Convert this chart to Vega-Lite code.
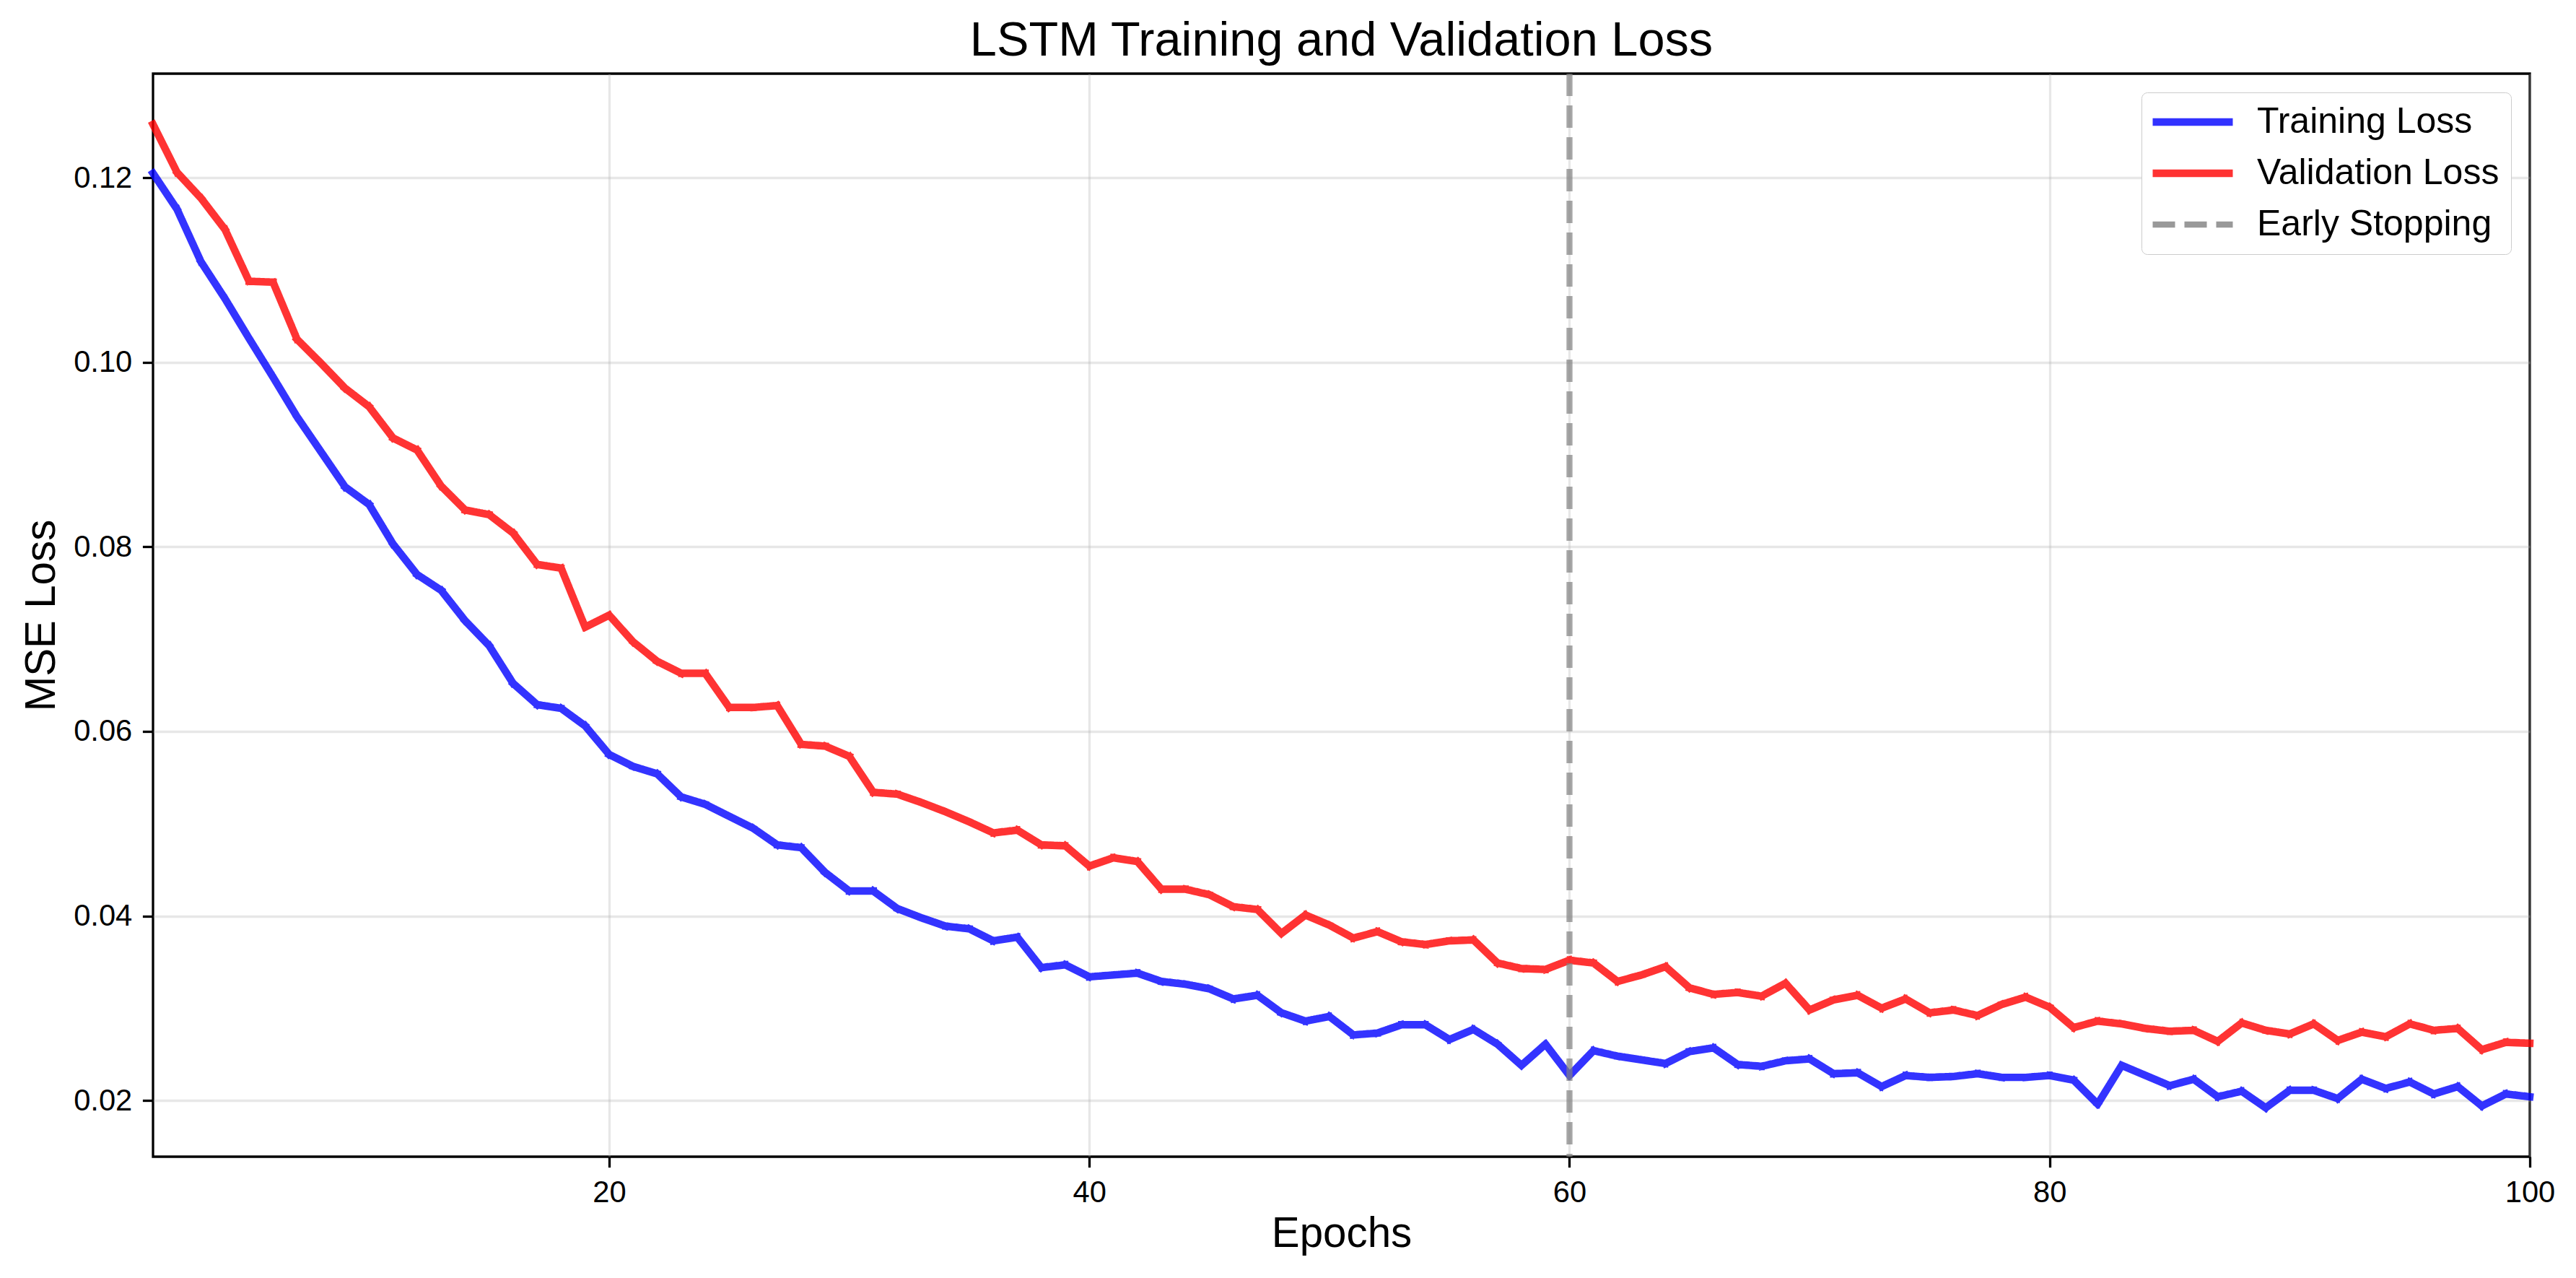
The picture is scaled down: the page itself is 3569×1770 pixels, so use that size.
{
  "$schema": "https://vega.github.io/schema/vega-lite/v6.json",
  "width": 3293,
  "height": 1500,
  "autosize": {"type": "none"},
  "padding": {"left": 212, "top": 102, "right": 64, "bottom": 168},
  "background": "white",
  "title": {"text": "LSTM Training and Validation Loss", "fontSize": 66.7, "font": "Liberation Sans", "fontWeight": "normal", "color": "black", "anchor": "middle", "frame": "group", "offset": 7},
  "config": {
    "view": {"stroke": "black", "strokeWidth": 3.3},
    "font": "Liberation Sans",
    "axis": {"labelFont": "Liberation Sans", "labelFontSize": 41.7, "labelColor": "black", "titleFont": "Liberation Sans", "titleFontSize": 58.3, "titleFontWeight": "normal", "titleColor": "black", "tickColor": "black", "tickWidth": 3.3, "tickSize": 14.6, "labelPadding": 14.6, "domain": false, "gridColor": "#b0b0b0", "gridOpacity": 0.3, "gridWidth": 3.3, "labelFlush": false, "labelOverlap": false},
    "axisX": {"titlePadding": 8},
    "axisY": {"titlePadding": 14},
    "legend": {"orient": "top-right", "offset": 26, "labelFontSize": 50, "labelFont": "Liberation Sans", "labelColor": "black", "symbolType": "M-4,0H4", "symbolSize": 770, "symbolOffset": 30, "labelOffset": 64, "padding": 16, "rowPadding": 21, "strokeColor": "#cccccc", "fillColor": "white", "cornerRadius": 8, "symbolOpacity": 0.8, "labelLimit": 0}
  },
  "datasets": {
    "loss": [
      {"epoch":1,"series":"Training Loss","loss":0.1205},{"epoch":2,"series":"Training Loss","loss":0.1166},{"epoch":3,"series":"Training Loss","loss":0.1109},{"epoch":4,"series":"Training Loss","loss":0.1069},{"epoch":5,"series":"Training Loss","loss":0.1026},{"epoch":6,"series":"Training Loss","loss":0.0984},{"epoch":7,"series":"Training Loss","loss":0.0941},{"epoch":8,"series":"Training Loss","loss":0.0903},{"epoch":9,"series":"Training Loss","loss":0.0865},{"epoch":10,"series":"Training Loss","loss":0.0846},
      {"epoch":11,"series":"Training Loss","loss":0.0803},{"epoch":12,"series":"Training Loss","loss":0.0770},{"epoch":13,"series":"Training Loss","loss":0.0753},{"epoch":14,"series":"Training Loss","loss":0.0720},{"epoch":15,"series":"Training Loss","loss":0.0693},{"epoch":16,"series":"Training Loss","loss":0.0652},{"epoch":17,"series":"Training Loss","loss":0.0629},{"epoch":18,"series":"Training Loss","loss":0.0625},{"epoch":19,"series":"Training Loss","loss":0.0606},{"epoch":20,"series":"Training Loss","loss":0.0575},
      {"epoch":21,"series":"Training Loss","loss":0.0562},{"epoch":22,"series":"Training Loss","loss":0.0554},{"epoch":23,"series":"Training Loss","loss":0.0529},{"epoch":24,"series":"Training Loss","loss":0.0521},{"epoch":25,"series":"Training Loss","loss":0.0508},{"epoch":26,"series":"Training Loss","loss":0.0495},{"epoch":27,"series":"Training Loss","loss":0.0477},{"epoch":28,"series":"Training Loss","loss":0.0474},{"epoch":29,"series":"Training Loss","loss":0.0447},{"epoch":30,"series":"Training Loss","loss":0.0427},
      {"epoch":31,"series":"Training Loss","loss":0.0427},{"epoch":32,"series":"Training Loss","loss":0.0408},{"epoch":33,"series":"Training Loss","loss":0.0398},{"epoch":34,"series":"Training Loss","loss":0.0389},{"epoch":35,"series":"Training Loss","loss":0.0386},{"epoch":36,"series":"Training Loss","loss":0.0373},{"epoch":37,"series":"Training Loss","loss":0.0377},{"epoch":38,"series":"Training Loss","loss":0.0344},{"epoch":39,"series":"Training Loss","loss":0.0347},{"epoch":40,"series":"Training Loss","loss":0.0334},
      {"epoch":41,"series":"Training Loss","loss":0.0336},{"epoch":42,"series":"Training Loss","loss":0.0338},{"epoch":43,"series":"Training Loss","loss":0.0329},{"epoch":44,"series":"Training Loss","loss":0.0326},{"epoch":45,"series":"Training Loss","loss":0.0321},{"epoch":46,"series":"Training Loss","loss":0.0310},{"epoch":47,"series":"Training Loss","loss":0.0314},{"epoch":48,"series":"Training Loss","loss":0.0295},{"epoch":49,"series":"Training Loss","loss":0.0286},{"epoch":50,"series":"Training Loss","loss":0.0291},
      {"epoch":51,"series":"Training Loss","loss":0.0271},{"epoch":52,"series":"Training Loss","loss":0.0273},{"epoch":53,"series":"Training Loss","loss":0.0282},{"epoch":54,"series":"Training Loss","loss":0.0282},{"epoch":55,"series":"Training Loss","loss":0.0266},{"epoch":56,"series":"Training Loss","loss":0.0277},{"epoch":57,"series":"Training Loss","loss":0.0261},{"epoch":58,"series":"Training Loss","loss":0.0238},{"epoch":59,"series":"Training Loss","loss":0.0261},{"epoch":60,"series":"Training Loss","loss":0.0227},
      {"epoch":61,"series":"Training Loss","loss":0.0254},{"epoch":62,"series":"Training Loss","loss":0.0248},{"epoch":63,"series":"Training Loss","loss":0.0244},{"epoch":64,"series":"Training Loss","loss":0.0240},{"epoch":65,"series":"Training Loss","loss":0.0253},{"epoch":66,"series":"Training Loss","loss":0.0257},{"epoch":67,"series":"Training Loss","loss":0.0239},{"epoch":68,"series":"Training Loss","loss":0.0237},{"epoch":69,"series":"Training Loss","loss":0.0243},{"epoch":70,"series":"Training Loss","loss":0.0245},
      {"epoch":71,"series":"Training Loss","loss":0.0229},{"epoch":72,"series":"Training Loss","loss":0.0230},{"epoch":73,"series":"Training Loss","loss":0.0215},{"epoch":74,"series":"Training Loss","loss":0.0227},{"epoch":75,"series":"Training Loss","loss":0.0225},{"epoch":76,"series":"Training Loss","loss":0.0226},{"epoch":77,"series":"Training Loss","loss":0.0229},{"epoch":78,"series":"Training Loss","loss":0.0225},{"epoch":79,"series":"Training Loss","loss":0.0225},{"epoch":80,"series":"Training Loss","loss":0.0227},
      {"epoch":81,"series":"Training Loss","loss":0.0222},{"epoch":82,"series":"Training Loss","loss":0.0196},{"epoch":83,"series":"Training Loss","loss":0.0238},{"epoch":84,"series":"Training Loss","loss":0.0227},{"epoch":85,"series":"Training Loss","loss":0.0216},{"epoch":86,"series":"Training Loss","loss":0.0223},{"epoch":87,"series":"Training Loss","loss":0.0204},{"epoch":88,"series":"Training Loss","loss":0.0210},{"epoch":89,"series":"Training Loss","loss":0.0192},{"epoch":90,"series":"Training Loss","loss":0.0211},
      {"epoch":91,"series":"Training Loss","loss":0.0211},{"epoch":92,"series":"Training Loss","loss":0.0202},{"epoch":93,"series":"Training Loss","loss":0.0223},{"epoch":94,"series":"Training Loss","loss":0.0213},{"epoch":95,"series":"Training Loss","loss":0.0220},{"epoch":96,"series":"Training Loss","loss":0.0207},{"epoch":97,"series":"Training Loss","loss":0.0215},{"epoch":98,"series":"Training Loss","loss":0.0194},{"epoch":99,"series":"Training Loss","loss":0.0207},{"epoch":100,"series":"Training Loss","loss":0.0204},
      {"epoch":1,"series":"Validation Loss","loss":0.1258},{"epoch":2,"series":"Validation Loss","loss":0.1206},{"epoch":3,"series":"Validation Loss","loss":0.1178},{"epoch":4,"series":"Validation Loss","loss":0.1144},{"epoch":5,"series":"Validation Loss","loss":0.1088},{"epoch":6,"series":"Validation Loss","loss":0.1087},{"epoch":7,"series":"Validation Loss","loss":0.1025},{"epoch":8,"series":"Validation Loss","loss":0.0999},{"epoch":9,"series":"Validation Loss","loss":0.0972},{"epoch":10,"series":"Validation Loss","loss":0.0952},
      {"epoch":11,"series":"Validation Loss","loss":0.0918},{"epoch":12,"series":"Validation Loss","loss":0.0905},{"epoch":13,"series":"Validation Loss","loss":0.0866},{"epoch":14,"series":"Validation Loss","loss":0.0840},{"epoch":15,"series":"Validation Loss","loss":0.0835},{"epoch":16,"series":"Validation Loss","loss":0.0815},{"epoch":17,"series":"Validation Loss","loss":0.0781},{"epoch":18,"series":"Validation Loss","loss":0.0777},{"epoch":19,"series":"Validation Loss","loss":0.0713},{"epoch":20,"series":"Validation Loss","loss":0.0726},
      {"epoch":21,"series":"Validation Loss","loss":0.0697},{"epoch":22,"series":"Validation Loss","loss":0.0676},{"epoch":23,"series":"Validation Loss","loss":0.0663},{"epoch":24,"series":"Validation Loss","loss":0.0663},{"epoch":25,"series":"Validation Loss","loss":0.0626},{"epoch":26,"series":"Validation Loss","loss":0.0626},{"epoch":27,"series":"Validation Loss","loss":0.0628},{"epoch":28,"series":"Validation Loss","loss":0.0586},{"epoch":29,"series":"Validation Loss","loss":0.0584},{"epoch":30,"series":"Validation Loss","loss":0.0573},
      {"epoch":31,"series":"Validation Loss","loss":0.0534},{"epoch":32,"series":"Validation Loss","loss":0.0532},{"epoch":33,"series":"Validation Loss","loss":0.0523},{"epoch":34,"series":"Validation Loss","loss":0.0513},{"epoch":35,"series":"Validation Loss","loss":0.0502},{"epoch":36,"series":"Validation Loss","loss":0.0490},{"epoch":37,"series":"Validation Loss","loss":0.0493},{"epoch":38,"series":"Validation Loss","loss":0.0477},{"epoch":39,"series":"Validation Loss","loss":0.0476},{"epoch":40,"series":"Validation Loss","loss":0.0454},
      {"epoch":41,"series":"Validation Loss","loss":0.0463},{"epoch":42,"series":"Validation Loss","loss":0.0459},{"epoch":43,"series":"Validation Loss","loss":0.0429},{"epoch":44,"series":"Validation Loss","loss":0.0429},{"epoch":45,"series":"Validation Loss","loss":0.0423},{"epoch":46,"series":"Validation Loss","loss":0.0410},{"epoch":47,"series":"Validation Loss","loss":0.0407},{"epoch":48,"series":"Validation Loss","loss":0.0381},{"epoch":49,"series":"Validation Loss","loss":0.0401},{"epoch":50,"series":"Validation Loss","loss":0.0390},
      {"epoch":51,"series":"Validation Loss","loss":0.0376},{"epoch":52,"series":"Validation Loss","loss":0.0383},{"epoch":53,"series":"Validation Loss","loss":0.0372},{"epoch":54,"series":"Validation Loss","loss":0.0369},{"epoch":55,"series":"Validation Loss","loss":0.0373},{"epoch":56,"series":"Validation Loss","loss":0.0374},{"epoch":57,"series":"Validation Loss","loss":0.0349},{"epoch":58,"series":"Validation Loss","loss":0.0343},{"epoch":59,"series":"Validation Loss","loss":0.0342},{"epoch":60,"series":"Validation Loss","loss":0.0352},
      {"epoch":61,"series":"Validation Loss","loss":0.0349},{"epoch":62,"series":"Validation Loss","loss":0.0329},{"epoch":63,"series":"Validation Loss","loss":0.0336},{"epoch":64,"series":"Validation Loss","loss":0.0345},{"epoch":65,"series":"Validation Loss","loss":0.0322},{"epoch":66,"series":"Validation Loss","loss":0.0315},{"epoch":67,"series":"Validation Loss","loss":0.0317},{"epoch":68,"series":"Validation Loss","loss":0.0313},{"epoch":69,"series":"Validation Loss","loss":0.0327},{"epoch":70,"series":"Validation Loss","loss":0.0298},
      {"epoch":71,"series":"Validation Loss","loss":0.0309},{"epoch":72,"series":"Validation Loss","loss":0.0314},{"epoch":73,"series":"Validation Loss","loss":0.0300},{"epoch":74,"series":"Validation Loss","loss":0.0310},{"epoch":75,"series":"Validation Loss","loss":0.0295},{"epoch":76,"series":"Validation Loss","loss":0.0298},{"epoch":77,"series":"Validation Loss","loss":0.0292},{"epoch":78,"series":"Validation Loss","loss":0.0304},{"epoch":79,"series":"Validation Loss","loss":0.0312},{"epoch":80,"series":"Validation Loss","loss":0.0301},
      {"epoch":81,"series":"Validation Loss","loss":0.0279},{"epoch":82,"series":"Validation Loss","loss":0.0286},{"epoch":83,"series":"Validation Loss","loss":0.0283},{"epoch":84,"series":"Validation Loss","loss":0.0278},{"epoch":85,"series":"Validation Loss","loss":0.0275},{"epoch":86,"series":"Validation Loss","loss":0.0276},{"epoch":87,"series":"Validation Loss","loss":0.0264},{"epoch":88,"series":"Validation Loss","loss":0.0284},{"epoch":89,"series":"Validation Loss","loss":0.0276},{"epoch":90,"series":"Validation Loss","loss":0.0272},
      {"epoch":91,"series":"Validation Loss","loss":0.0283},{"epoch":92,"series":"Validation Loss","loss":0.0265},{"epoch":93,"series":"Validation Loss","loss":0.0274},{"epoch":94,"series":"Validation Loss","loss":0.0269},{"epoch":95,"series":"Validation Loss","loss":0.0283},{"epoch":96,"series":"Validation Loss","loss":0.0276},{"epoch":97,"series":"Validation Loss","loss":0.0278},{"epoch":98,"series":"Validation Loss","loss":0.0255},{"epoch":99,"series":"Validation Loss","loss":0.0263},{"epoch":100,"series":"Validation Loss","loss":0.0262}
    ],
    "stop": [{"epoch": 60, "series": "Early Stopping"}]
  },
  "encoding": {
    "x": {"field": "epoch", "type": "quantitative", "scale": {"domain": [1, 100], "nice": false, "zero": false}, "axis": {"values": [20, 40, 60, 80, 100], "title": "Epochs"}},
    "color": {"field": "series", "type": "nominal", "scale": {"domain": ["Training Loss", "Validation Loss", "Early Stopping"], "range": ["blue", "red", "gray"]}, "legend": {"title": null}},
    "strokeDash": {"field": "series", "type": "nominal", "scale": {"domain": ["Training Loss", "Validation Loss", "Early Stopping"], "range": [[1, 0], [1, 0], [31, 13]]}, "legend": {"title": null}},
    "strokeWidth": {"field": "series", "type": "nominal", "scale": {"type": "ordinal", "domain": ["Training Loss", "Validation Loss", "Early Stopping"], "range": [10.4, 10.4, 8.3]}, "legend": {"title": null}}
  },
  "layer": [
    {
      "data": {"name": "loss"},
      "mark": {"type": "line", "opacity": 0.8, "strokeJoin": "round", "strokeCap": "square"},
      "encoding": {
        "y": {"field": "loss", "type": "quantitative", "scale": {"domain": [0.0139, 0.1313], "nice": false, "zero": false}, "axis": {"values": [0.02, 0.04, 0.06, 0.08, 0.10, 0.12], "format": ".2f", "title": "MSE Loss"}}
      }
    },
    {
      "data": {"name": "stop"},
      "mark": {"type": "rule", "opacity": 0.7},
      "encoding": {}
    }
  ]
}
